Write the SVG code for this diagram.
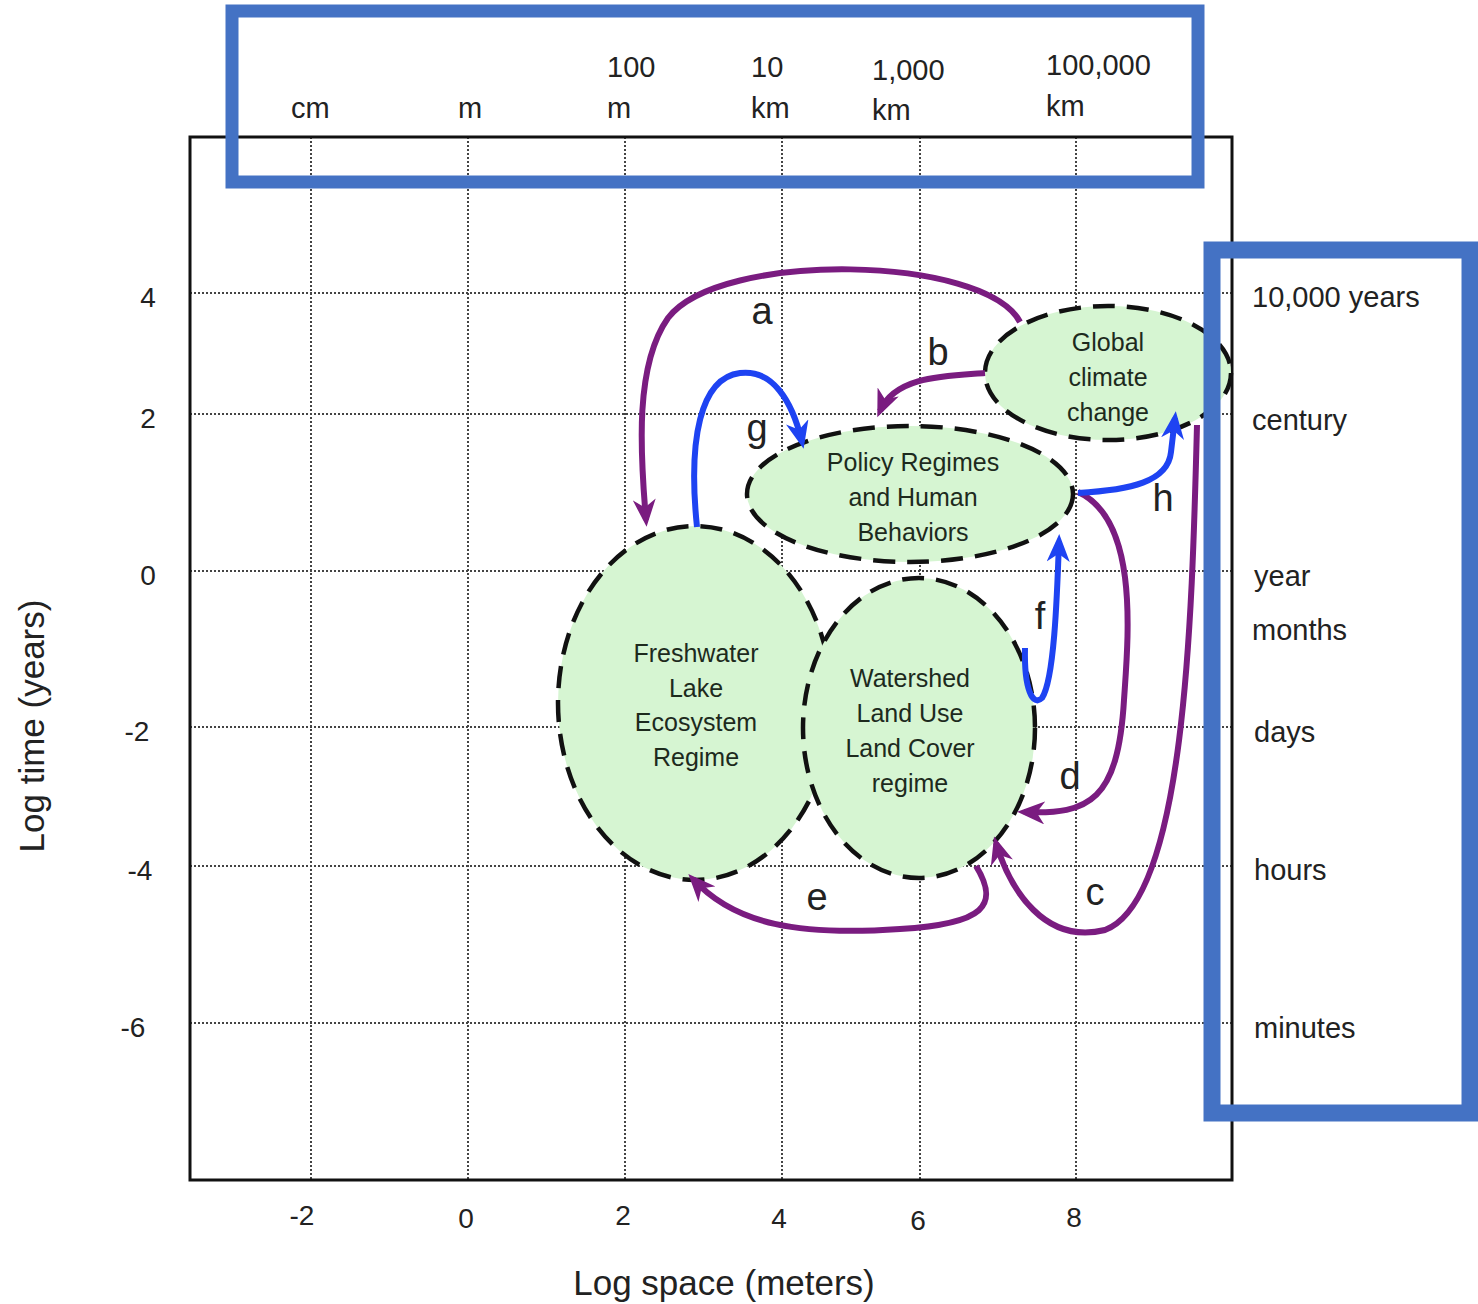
<svg xmlns="http://www.w3.org/2000/svg" width="1478" height="1304" viewBox="0 0 1478 1304">
<style>
.t{font-family:"Liberation Sans",Arial,sans-serif;fill:#222}
.ax{font-size:28px}
.sc{font-size:29px}
.nd{font-size:25px;fill:#1d2a1d;text-anchor:middle}
.lb{font-size:38px;text-anchor:middle}
.grid{stroke:#444;stroke-width:2;stroke-dasharray:2 2;fill:none}
.ell{fill:#d6f5d2;stroke:#111;stroke-width:4.5;stroke-dasharray:22 12}
.pu{fill:none;stroke:#7a1c80;stroke-width:6;marker-end:url(#ap)}
.bl{fill:none;stroke:#1e43f2;stroke-width:6;marker-end:url(#ab)}
.box{fill:none;stroke:#4472c4}
</style>
<defs>
<marker id="ap" viewBox="0 0 12 10" refX="9" refY="5" markerWidth="28" markerHeight="23" markerUnits="userSpaceOnUse" orient="auto"><path d="M0,0 L12,5 L0,10 L3.5,5 z" fill="#7a1c80"/></marker>
<marker id="ab" viewBox="0 0 12 10" refX="9" refY="5" markerWidth="28" markerHeight="23" markerUnits="userSpaceOnUse" orient="auto"><path d="M0,0 L12,5 L0,10 L3.5,5 z" fill="#1e43f2"/></marker>
</defs>
<rect width="1478" height="1304" fill="#fff"/>
<g id="grid">
<path class="grid" d="M311,137V1180M468,137V1180M625,137V1180M782,137V1180M920,137V1180M1076,137V1180"/>
<path class="grid" d="M190,293H1232M190,414H1232M190,571H1232M190,727H1232M190,866H1232M190,1023H1232"/>
<rect x="190" y="137" width="1042" height="1043" fill="none" stroke="#111" stroke-width="3"/>
</g>
<g id="axis-labels" class="t ax">
<text x="148" y="307" text-anchor="middle">4</text>
<text x="148" y="428" text-anchor="middle">2</text>
<text x="148" y="585" text-anchor="middle">0</text>
<text x="137" y="741" text-anchor="middle">-2</text>
<text x="140" y="880" text-anchor="middle">-4</text>
<text x="133" y="1037" text-anchor="middle">-6</text>
<text x="302" y="1225" text-anchor="middle">-2</text>
<text x="466" y="1228" text-anchor="middle">0</text>
<text x="623" y="1225" text-anchor="middle">2</text>
<text x="779" y="1228" text-anchor="middle">4</text>
<text x="918" y="1230" text-anchor="middle">6</text>
<text x="1074" y="1227" text-anchor="middle">8</text>
<text x="724" y="1295" text-anchor="middle" style="font-size:35px">Log space (meters)</text>
<text transform="translate(44,726) rotate(-90)" text-anchor="middle" style="font-size:35px">Log time (years)</text>
</g>
<g id="node-lake">
<ellipse class="ell" cx="695" cy="703" rx="137" ry="177"/>
<text class="t nd" x="696" y="662">Freshwater</text>
<text class="t nd" x="696" y="697">Lake</text>
<text class="t nd" x="696" y="731">Ecosystem</text>
<text class="t nd" x="696" y="766">Regime</text>
</g>
<g id="node-watershed">
<ellipse class="ell" cx="919" cy="728" rx="116" ry="150"/>
<text class="t nd" x="910" y="687">Watershed</text>
<text class="t nd" x="910" y="722">Land Use</text>
<text class="t nd" x="910" y="757">Land Cover</text>
<text class="t nd" x="910" y="792">regime</text>
</g>
<g id="node-policy">
<ellipse class="ell" cx="910" cy="494" rx="163" ry="68"/>
<text class="t nd" x="913" y="471">Policy Regimes</text>
<text class="t nd" x="913" y="506">and Human</text>
<text class="t nd" x="913" y="541">Behaviors</text>
</g>
<g id="node-global">
<ellipse class="ell" cx="1108" cy="373" rx="123" ry="67"/>
<text class="t nd" x="1108" y="351">Global</text>
<text class="t nd" x="1108" y="386">climate</text>
<text class="t nd" x="1108" y="421">change</text>
</g>
<g id="connectors">
<path class="pu" d="M1020,322 C985,255 720,250 668,318 C635,365 640,450 646,520"/>
<path class="pu" d="M985,373 C945,376 895,376 880,411"/>
<path class="pu" d="M1197,425 C1192,620 1185,900 1105,930 C1045,945 1010,890 996,843"/>
<path class="pu" d="M1078,492 C1140,520 1128,640 1124,700 C1118,800 1090,815 1024,812"/>
<path class="pu" d="M976,866 C1000,905 985,924 900,929 C800,936 735,925 693,879"/>
<path class="bl" d="M1025,648 C1024,690 1033,707 1042,698 C1054,680 1057,600 1059,541"/>
<path class="bl" d="M697,527 C688,440 700,378 740,373 C772,369 792,400 802,442"/>
<path class="bl" d="M1078,493 C1130,490 1168,482 1171,452 L1175,418"/>
</g>
<g id="edge-labels" class="t lb">
<text x="762" y="324">a</text>
<text x="938" y="365">b</text>
<text x="1095" y="905">c</text>
<text x="1070" y="789">d</text>
<text x="817" y="910">e</text>
<text x="1040" y="629">f</text>
<text x="757" y="441">g</text>
<text x="1163" y="511">h</text>
</g>
<g id="top-scale">
<rect class="box" x="232" y="11" width="966" height="171" stroke-width="13"/>
<g class="t sc">
<text x="291" y="118">cm</text>
<text x="458" y="118">m</text>
<text x="607" y="77">100</text>
<text x="607" y="118">m</text>
<text x="751" y="77">10</text>
<text x="751" y="118">km</text>
<text x="872" y="80">1,000</text>
<text x="872" y="120">km</text>
<text x="1046" y="75">100,000</text>
<text x="1046" y="116">km</text>
</g>
</g>
<g id="right-scale">
<rect class="box" x="1212" y="250" width="258" height="863" stroke-width="17"/>
<g class="t sc">
<text x="1252" y="307">10,000 years</text>
<text x="1252" y="430">century</text>
<text x="1254" y="586">year</text>
<text x="1252" y="640">months</text>
<text x="1254" y="742">days</text>
<text x="1254" y="880">hours</text>
<text x="1254" y="1038">minutes</text>
</g>
</g>
</svg>
